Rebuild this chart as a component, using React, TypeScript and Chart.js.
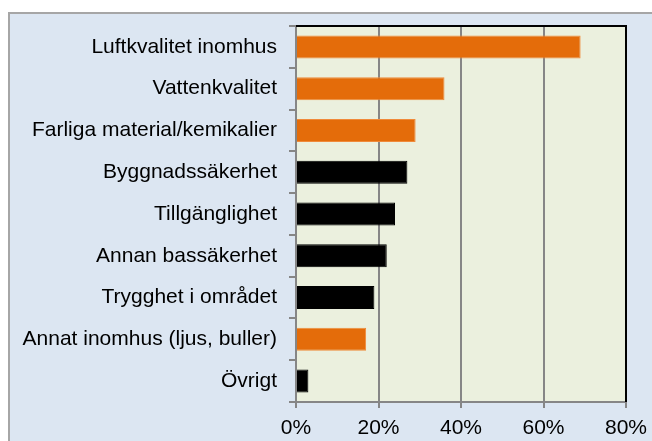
import React, { useEffect, useRef } from "react";
import { Chart, registerables } from "chart.js";

Chart.register(...registerables);

const categories = [
  "Luftkvalitet inomhus",
  "Vattenkvalitet",
  "Farliga material/kemikalier",
  "Byggnadssäkerhet",
  "Tillgänglighet",
  "Annan bassäkerhet",
  "Trygghet i området",
  "Annat inomhus (ljus, buller)",
  "Övrigt",
];
const values = [69, 36, 29, 27, 24, 22, 19, 17, 3];
const indoorCategories = [
  "Luftkvalitet inomhus",
  "Vattenkvalitet",
  "Farliga material/kemikalier",
  "Annat inomhus (ljus, buller)",
];
const xTicks = [0, 20, 40, 60, 80];

const ORANGE = "#e46c0a";
const BLACK = "#000000";
const FONT = "'Liberation Sans', Arial, sans-serif";

const PLOT_LEFT = 296;
const PLOT_TOP = 26;
const PLOT_RIGHT = 626;
const PLOT_BOTTOM = 402;
const W = 652;
const H = 441;

const bgPlugin = {
  id: "bgPlugin",
  beforeDraw(chart: any) {
    const ctx = chart.ctx;
    ctx.save();
    ctx.fillStyle = "#ffffff";
    ctx.fillRect(0, 0, W, H);
    ctx.fillStyle = "#dce6f2";
    ctx.fillRect(9, 13, W + 20, H + 20);
    ctx.strokeStyle = "#a6a6a6";
    ctx.lineWidth = 2;
    ctx.strokeRect(9, 13, W + 20, H + 20);
    const a = chart.chartArea;
    ctx.fillStyle = "#ebf0de";
    ctx.fillRect(a.left, a.top, a.right - a.left, a.bottom - a.top);
    ctx.restore();
  },
  afterDraw(chart: any) {
    const ctx = chart.ctx;
    const a = chart.chartArea;
    ctx.save();
    ctx.strokeStyle = "#000000";
    ctx.lineWidth = 2;
    ctx.beginPath();
    ctx.moveTo(a.left, a.top);
    ctx.lineTo(a.right, a.top);
    ctx.lineTo(a.right, a.bottom);
    ctx.stroke();
    ctx.restore();
  },
};

export default function App() {
  const ref = useRef<HTMLCanvasElement | null>(null);

  useEffect(() => {
    if (!ref.current) return;
    const colors = categories.map((c) =>
      indoorCategories.includes(c) ? ORANGE : BLACK
    );
    const borders = categories.map((c) =>
      indoorCategories.includes(c) ? "#f08a3a" : BLACK
    );
    const chart = new Chart(ref.current, {
      type: "bar",
      data: {
        labels: categories,
        datasets: [
          {
            data: values,
            backgroundColor: colors,
            borderColor: borders,
            borderWidth: 1,
            barPercentage: 0.55,
            categoryPercentage: 1,
          },
        ],
      },
      options: {
        indexAxis: "y",
        responsive: false,
        animation: false,
        layout: {
          padding: { top: PLOT_TOP, right: W - PLOT_RIGHT, left: 0, bottom: 0 },
        },
        plugins: {
          legend: { display: false },
          tooltip: { enabled: false },
          title: { display: false },
        },
        scales: {
          x: {
            min: 0,
            max: 80,
            afterFit(scale: any) {
              scale.height = H - PLOT_BOTTOM;
              scale.paddingRight = 0;
              scale.paddingLeft = 0;
            },
            afterBuildTicks(scale: any) {
              scale.ticks = xTicks.map((v) => ({ value: v }));
            },
            ticks: {
              callback: (v: any) => v + "%",
              color: "#000000",
              font: { family: FONT, size: 21 },
              padding: 8,
              maxRotation: 0,
            },
            grid: {
              color: "#868686",
              lineWidth: 2,
              drawTicks: true,
              tickLength: 6,
              tickColor: "#868686",
            },
            border: { color: "#868686", width: 2 },
          },
          y: {
            z: 1,
            afterFit(scale: any) {
              scale.width = PLOT_LEFT;
              scale.paddingTop = 0;
              scale.paddingBottom = 0;
            },
            ticks: {
              color: "#000000",
              font: { family: FONT, size: 21 },
              padding: 12,
              autoSkip: false,
            },
            grid: {
              drawOnChartArea: false,
              drawTicks: true,
              tickLength: 7,
              tickColor: "#868686",
              lineWidth: 2,
              offset: true,
            },
            border: { color: "#868686", width: 2 },
          },
        },
      },
      plugins: [bgPlugin],
    } as any);
    return () => chart.destroy();
  }, []);

  return (
    <div style={{ position: "absolute", left: 0, top: 0, width: W, height: H, background: "#fff" }}>
      <canvas ref={ref} width={W} height={H} style={{ display: "block" }} />
    </div>
  );
}
